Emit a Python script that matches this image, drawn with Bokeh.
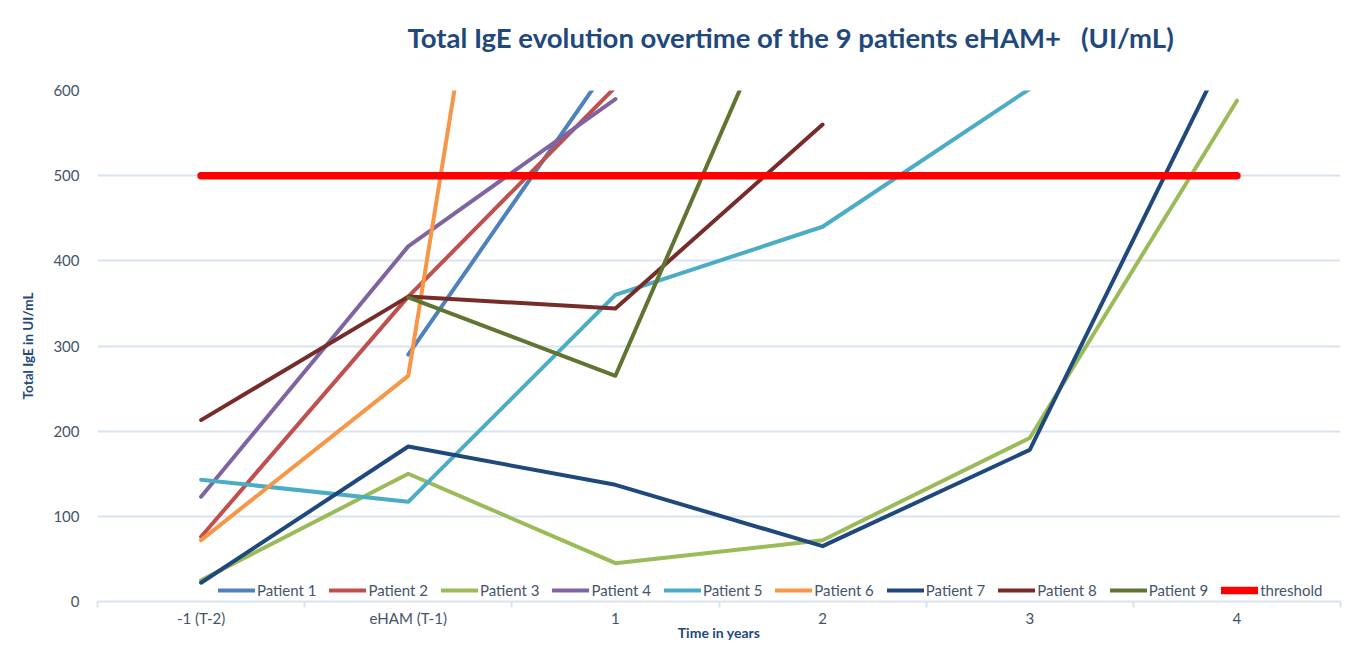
import math
from bokeh.plotting import figure
from bokeh.models import (Range1d, FixedTicker, CustomJSTickFormatter, Legend,
                          LegendItem, Title)
from bokeh.embed import file_html
from bokeh.resources import INLINE

nan = math.nan

categories = ["-1 (T-2)", "eHAM (T-1)", "1", "2", "3", "4"]

patient_1 = [nan, 290, 640, nan, nan, nan]
patient_2 = [76, 358, 604, nan, nan, nan]
patient_3 = [25, 150, 45, 72, 192, 588]
patient_4 = [123, 417, 590, nan, nan, nan]
patient_5 = [143, 117, 360, 440, 602, nan]
patient_6 = [72, 265, 1770, nan, nan, nan]
patient_7 = [22, 182, 137, 65, 178, 672]
patient_8 = [213, 358, 344, 560, nan, nan]
patient_9 = [nan, 357, 265, 824, nan, nan]
threshold = [500, 500, 500, 500, 500, 500]

series_names = ["Patient 1", "Patient 2", "Patient 3", "Patient 4", "Patient 5",
                "Patient 6", "Patient 7", "Patient 8", "Patient 9", "threshold"]
series_values = [patient_1, patient_2, patient_3, patient_4, patient_5,
                 patient_6, patient_7, patient_8, patient_9, threshold]
series_colors = ["#4F81BD", "#C0504D", "#9BBB59", "#8064A2", "#4BACC6",
                 "#F79646", "#1F497D", "#772C2A", "#5F7530", "#FF0000"]
series_widths = [4, 4, 4, 4, 4, 4, 4, 4, 4, 7.5]

FONT = "Lato"
TEXT_COL = "#44546A"
TITLE_COL = "#1F497D"
GRID_COL = "#D9E2F1"
NB = "\u00a0"

x_pos = [i + 0.5 for i in range(len(categories))]

p = figure(width=1346, height=643, output_backend="svg", toolbar_location=None,
           x_range=Range1d(0, len(categories)), y_range=Range1d(0, 600),
           min_border_left=97, min_border_right=6, min_border_bottom=38,
           min_border_top=88,
           background_fill_color="white", border_fill_color="white")
p.outline_line_color = None

# spacer between title and plot, then main title, then top spacer (p.title)
p.add_layout(Title(text=NB, text_font_size="18px"), "above")
main_title = Title(text="Total IgE evolution overtime of the 9 patients eHAM+" + NB * 3 + "(UI/mL)",
                   text_font=FONT, text_font_size="27.5px", text_font_style="bold",
                   text_color=TITLE_COL, align="left", offset=310)
p.add_layout(main_title, "above")
p.title.text = NB
p.title.text_font_size = "1px"

items = []
for name, vals, col, w in zip(series_names, series_values, series_colors, series_widths):
    r = p.line(x_pos, vals, line_color=col, line_width=w, line_cap="round", line_join="round")
    items.append(LegendItem(label=name, renderers=[r]))

legend = Legend(items=items, orientation="horizontal", location=(121, 2),
                glyph_width=37, glyph_height=18, label_height=18,
                label_standoff=2, spacing=13, padding=0, margin=0,
                label_text_font=FONT, label_text_font_size="15px",
                label_text_color=TEXT_COL,
                background_fill_alpha=0, border_line_color=None)
p.add_layout(legend)

# x axis
xa = p.xaxis[0]
xa.ticker = FixedTicker(ticks=x_pos, minor_ticks=list(range(len(categories) + 1)))
xa.formatter = CustomJSTickFormatter(args=dict(labels=categories),
                                     code="return labels[Math.floor(tick)];")
xa.axis_line_color = GRID_COL
xa.axis_line_width = 2
xa.major_tick_line_color = None
xa.major_tick_out = 0
xa.major_tick_in = 0
xa.minor_tick_line_color = GRID_COL
xa.minor_tick_line_width = 2
xa.minor_tick_out = 6
xa.minor_tick_in = 0
xa.major_label_standoff = 1
xa.major_label_text_font = FONT
xa.major_label_text_font_size = "15px"
xa.major_label_text_color = TEXT_COL
xa.axis_label = "Time in years"
xa.axis_label_text_font = FONT
xa.axis_label_text_font_size = "14px"
xa.axis_label_text_font_style = "bold"
xa.axis_label_text_color = TITLE_COL
xa.axis_label_standoff = -6

# y axis
ya = p.yaxis[0]
ya.ticker = FixedTicker(ticks=[0, 100, 200, 300, 400, 500, 600])
ya.axis_line_color = None
ya.major_tick_line_color = None
ya.minor_tick_line_color = None
ya.major_label_standoff = 12
ya.major_label_text_font = FONT
ya.major_label_text_font_size = "15px"
ya.major_label_text_color = TEXT_COL
ya.axis_label = "Total IgE in UI/mL"
ya.axis_label_text_font = FONT
ya.axis_label_text_font_size = "13.5px"
ya.axis_label_text_font_style = "bold"
ya.axis_label_text_color = TITLE_COL
ya.axis_label_standoff = 14

p.xgrid.grid_line_color = None
p.ygrid.grid_line_color = GRID_COL
p.ygrid.grid_line_width = 2

open("out.html", "w").write(file_html(p, INLINE))
